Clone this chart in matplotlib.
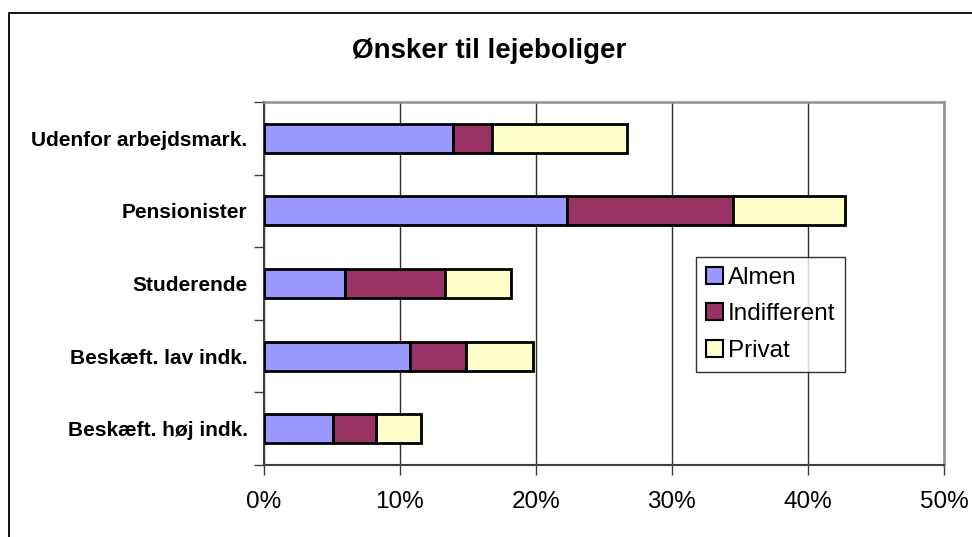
import matplotlib
matplotlib.use("Agg")
import matplotlib.pyplot as plt
from matplotlib.patches import Rectangle
from matplotlib.ticker import FixedLocator, PercentFormatter

# ─── data (bottom to top) ────────────────────────────────────────────────────

CATEGORIES = ["Beskæft. høj indk.", "Beskæft. lav indk.", "Studerende",
              "Pensionister", "Udenfor arbejdsmark."]
ALMEN       = [5.1, 10.8, 6.0, 22.3, 13.9]
INDIFFERENT = [3.2, 4.1, 7.3, 12.2, 2.9]
PRIVAT      = [3.3, 4.9, 4.9, 8.2, 9.9]
SERIES = ["Almen", "Indifferent", "Privat"]
COLORS = ["#9999FF", "#993366", "#FFFFCC"]
X_TICKS = [0, 10, 20, 30, 40, 50]

plt.rcParams["font.family"] = ["Liberation Sans", "DejaVu Sans"]

W, H = 972, 537
fig = plt.figure(figsize=(W / 100, H / 100), dpi=100, facecolor="white")

# outer chart frame (runs off the right and bottom edge)
fig.patches.append(Rectangle((9 / W, -0.1), 1.2, 1 - 13 / H + 0.1,
                             transform=fig.transFigure, fill=False,
                             edgecolor="black", linewidth=1.3))

ax = fig.add_axes([263.5 / W, 1 - 465 / H, (944 - 263.5) / W, (465 - 102) / H])

y = list(range(len(CATEGORIES)))
left = [0] * len(CATEGORIES)
for name, vals, color in zip(SERIES, [ALMEN, INDIFFERENT, PRIVAT], COLORS):
    ax.barh(y, vals, left=left, height=0.4, color=color, edgecolor="black",
            linewidth=2, label=name, zorder=3)
    left = [a + b for a, b in zip(left, vals)]

ax.set_xlim(0, 50)
ax.set_ylim(-0.5, len(CATEGORIES) - 0.5)
ax.set_xticks(X_TICKS)
ax.xaxis.set_major_formatter(PercentFormatter(decimals=0))
ax.grid(axis="x", color="#303030", linewidth=1, zorder=1)

ax.set_yticks(y)
ax.set_yticklabels(CATEGORIES, fontsize=15, fontweight="bold")
ax.yaxis.set_minor_locator(FixedLocator([i - 0.5 for i in range(len(CATEGORIES) + 1)]))
ax.tick_params(axis="y", which="major", length=0, pad=11.5)
ax.tick_params(axis="y", which="minor", length=7, width=1, color="#404040")
ax.tick_params(axis="x", length=7, width=1, color="#404040", labelsize=17.5, pad=12)

for side in ("left", "bottom"):
    ax.spines[side].set_color("#404040")
    ax.spines[side].set_linewidth(1.5)
for side in ("top", "right"):
    ax.spines[side].set_color("#909090")
    ax.spines[side].set_linewidth(1.8)

leg = ax.legend(loc="upper left", bbox_to_anchor=((696 - 263.5) / (944 - 263.5),
                                                  (465 - 257) / (465 - 102)),
                fontsize=17.5, frameon=True, fancybox=False, shadow=False,
                handlelength=0.7, handleheight=0.7, handletextpad=0.2,
                labelspacing=0.6, borderpad=0.4, borderaxespad=0)
leg.get_frame().set_edgecolor("black")
leg.get_frame().set_linewidth(1)
for h in leg.legend_handles:
    h.set_linewidth(1.5)

fig.text(489 / W, 1 - 51 / H, "Ønsker til lejeboliger", ha="center", va="center",
         fontsize=20, fontweight="bold")

fig.savefig("out.png", dpi=100, facecolor="white")
